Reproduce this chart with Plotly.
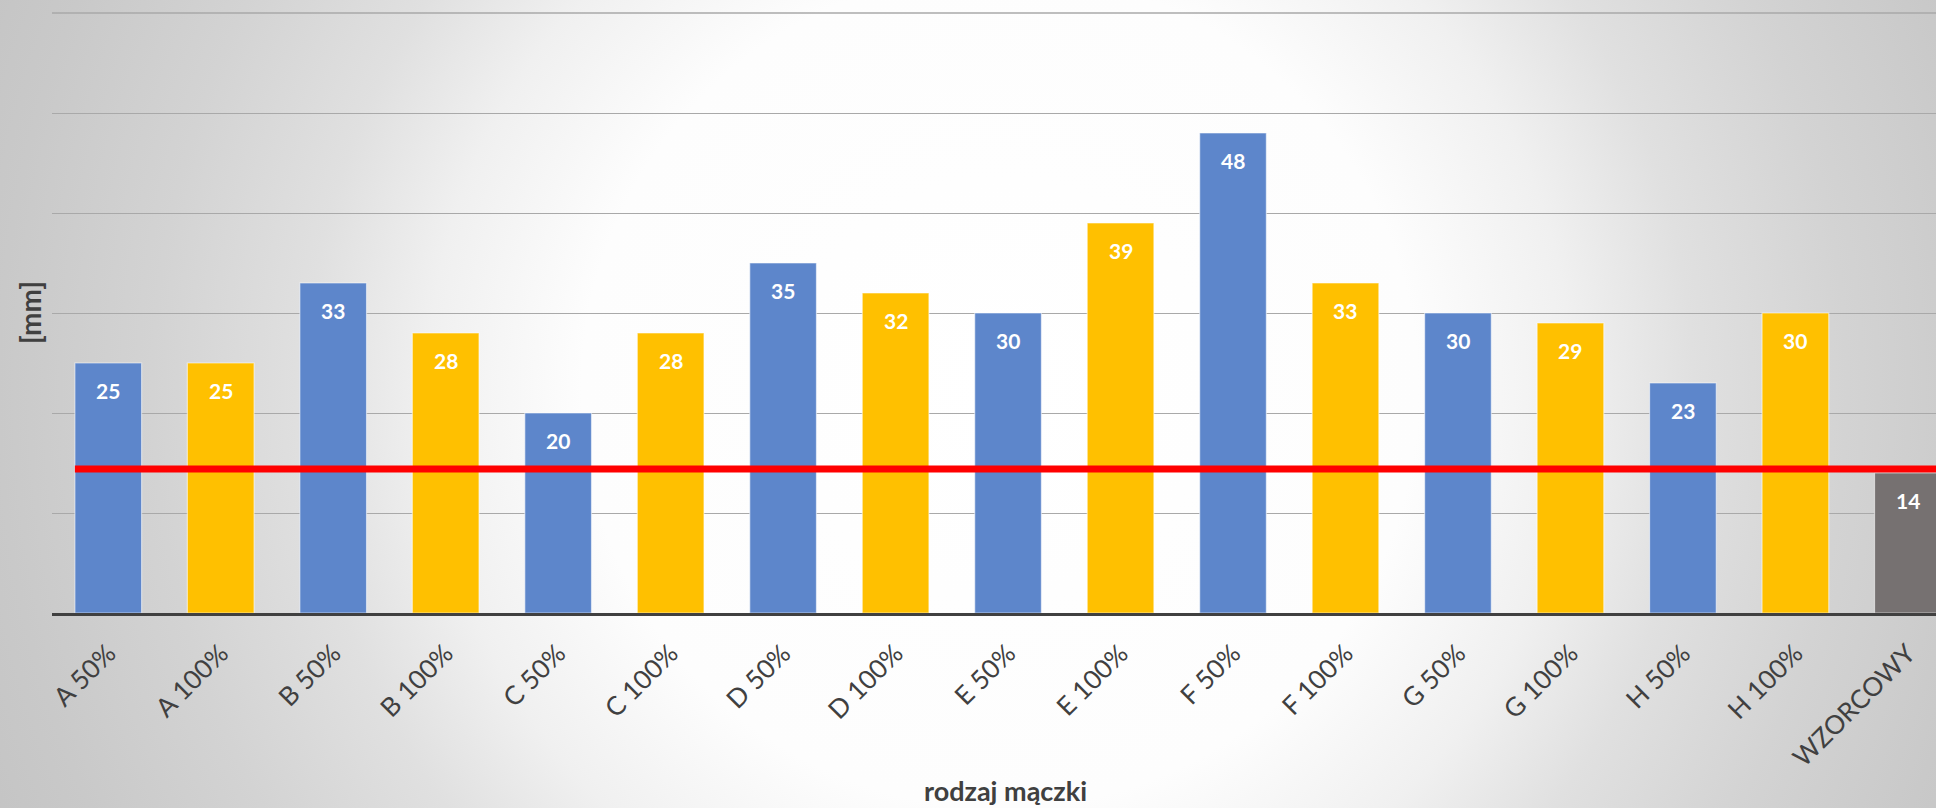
import plotly.graph_objects as go

# Categories and measured values [mm]
categories = ["A 50%", "A 100%", "B 50%", "B 100%", "C 50%", "C 100%",
              "D 50%", "D 100%", "E 50%", "E 100%", "F 50%", "F 100%",
              "G 50%", "G 100%", "H 50%", "H 100%", "WZORCOWY"]
values = [25, 25, 33, 28, 20, 28, 35, 32, 30, 39, 48, 33, 30, 29, 23, 30, 14]
groups = ["50", "100", "50", "100", "50", "100", "50", "100", "50", "100",
          "50", "100", "50", "100", "50", "100", "ref"]
grid_levels = [0, 10, 20, 30, 40, 50]
top_level = 60
reference_level = 14.4

group_colors = {"50": "#5D86CB", "100": "#FFC000", "ref": "#767171"}
bar_colors = [group_colors[g] for g in groups]

W, H = 1936, 808
FONT = "Lato"
GRID = "#a9a9a9"

fig = go.Figure()

# Soft radial backdrop spanning the whole canvas
cx, cy, R = 1000, 390, 1100
fig.add_trace(go.Scatter(
    x=[cx - R, cx + R, cx + R, cx - R, cx - R],
    y=[cy - R, cy - R, cy + R, cy + R, cy - R],
    mode="lines", fill="toself", line=dict(width=0),
    fillgradient=dict(type="radial", colorscale=[
        [0.0, "#ffffff"], [0.38, "#fdfdfd"], [0.52, "#f0f0f0"],
        [0.63, "#e0e0e0"], [0.77, "#d3d3d3"], [0.91, "#c9c9c9"],
        [1.0, "#c4c4c4"]]),
    hoverinfo="skip", showlegend=False, xaxis="x", yaxis="y"))

fig.add_trace(go.Bar(
    x=categories, y=values,
    marker=dict(color=bar_colors,
                line=dict(color="rgba(255,255,255,0.55)", width=1.2)),
    xaxis="x2", yaxis="y2", showlegend=False))

# Value labels inside the top of each bar
annotations = [
    dict(x=c, y=v, xref="x2", yref="y2", text=f"<b>{v}</b>", showarrow=False,
         yshift=-27, font=dict(family=FONT, size=21, color="white"))
    for c, v in zip(categories, values)
]
annotations.append(dict(
    x=30 / W, y=1 - 313 / H, xref="paper", yref="paper", text="<b>[mm]</b>",
    textangle=-90, showarrow=False, xanchor="center", yanchor="middle",
    font=dict(family=FONT, size=28, color="#404040")))
annotations.append(dict(
    x=1006 / W, y=1 - 790 / H, xref="paper", yref="paper",
    text="<b>rodzaj mączki</b>", showarrow=False, xanchor="center",
    yanchor="middle", font=dict(family=FONT, size=27, color="#404040")))

n = len(categories)
bar_frac = 0.593
plot_bottom = 195          # px from the bottom edge to the value axis origin
plot_top = 6               # px left free above the plot area
px_per_unit = 10.0
y_top = (H - plot_bottom - plot_top) / px_per_unit

shapes = [
    # topmost gridline (no bar reaches it)
    dict(type="line", xref="x2 domain", yref="y2", x0=0, x1=1,
         y0=top_level, y1=top_level, line=dict(color=GRID, width=1.3),
         layer="above"),
    # reference level across the bars
    dict(type="line", xref="x2", yref="y2",
         x0=-bar_frac / 2, x1=n - 0.75,
         y0=reference_level, y1=reference_level,
         line=dict(color="#FF0000", width=7), layer="above"),
]

fig.update_layout(
    width=W, height=H, autosize=False,
    margin=dict(l=0, r=0, t=0, b=0),
    paper_bgcolor="#d6d6d6", plot_bgcolor="rgba(0,0,0,0)",
    bargap=1 - bar_frac,
    xaxis=dict(domain=[0, 1], range=[0, W], visible=False, fixedrange=True),
    yaxis=dict(domain=[0, 1], range=[H, 0], visible=False, fixedrange=True),
    xaxis2=dict(anchor="y2", domain=[52 / W, 1], type="category",
                range=[-0.5, n - 0.75], tickangle=-45,
                tickfont=dict(family=FONT, size=26, color="#404040"),
                showline=True, linecolor="#404040", linewidth=3,
                showgrid=False, ticks="outside", ticklen=12,
                tickcolor="rgba(0,0,0,0)", automargin=False),
    yaxis2=dict(anchor="x2", domain=[plot_bottom / H, 1 - plot_top / H],
                range=[0, y_top], showline=False, ticks="",
                tickmode="array", tickvals=grid_levels,
                showgrid=True, gridcolor=GRID, gridwidth=1.3,
                showticklabels=False, zeroline=False, automargin=False),
    shapes=shapes,
    annotations=annotations,
)

fig.write_html("out.html", config={"displayModeBar": False})
